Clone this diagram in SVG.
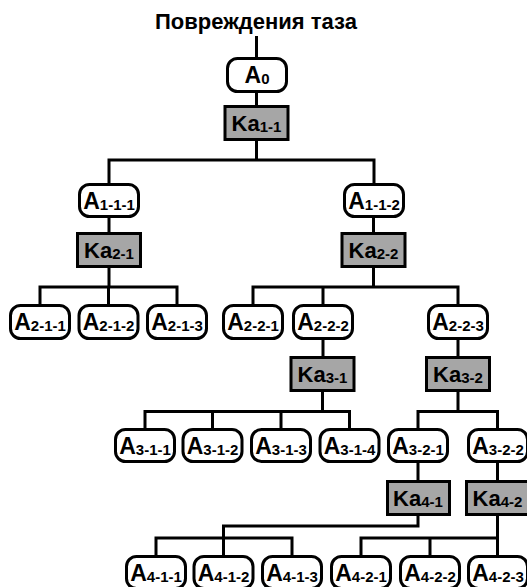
<svg xmlns="http://www.w3.org/2000/svg" width="527" height="587" viewBox="0 0 527 587">
<style>
.a{fill:#fff;stroke:#000;stroke-width:3}
.k{fill:#a6a6a6;stroke:#000;stroke-width:3}
.c{fill:none;stroke:#000;stroke-width:3;stroke-linejoin:miter}
text{font-family:"Liberation Sans",Arial,sans-serif;font-weight:bold;fill:#000;text-anchor:middle;font-size:23px}
.kt{font-size:22px}
.s{font-size:15px}
.t{font-size:22px}
</style>
<rect width="527" height="587" fill="#fff"/>
<text class="t" x="256" y="29">Повреждения таза</text>
<g id="connectors">
<path class="c" d="M256.5 36V57M256.5 93V105M256.5 141V160M109 183V160H374V183"/>
<path class="c" d="M109 218V232M373.5 218V232"/>
<path class="c" d="M109 268V287M40 304V287H177V304M108.5 287V304"/>
<path class="c" d="M373.5 268V287M253 304V287H458V304M323 287V304"/>
<path class="c" d="M323 340V356M458 340V356"/>
<path class="c" d="M322.5 392V411.5M145 428V411.5H349.5V428M212.5 411.5V428M281 411.5V428"/>
<path class="c" d="M458 392V411.5M418 428V411.5H497.5V428"/>
<path class="c" d="M418 462V480M497.5 462V480"/>
<path class="c" d="M418 516V526H223.5V555M156 555V538H292V555"/>
<path class="c" d="M497.5 516V555M361 555V538H497.5M430 538V555"/>
</g>
<g id="A0"><rect class="a" x="227.5" y="58.5" width="59" height="33" rx="10"/><text x="257" y="83">A<tspan class="s" dy="1">0</tspan></text></g>
<g id="Ka1-1"><rect class="k" x="225" y="106.5" width="63" height="33"/><text class="kt" x="256.5" y="131">Ka<tspan class="s" dy="1">1-1</tspan></text></g>
<g id="A1-1-1"><rect class="a" x="79.5" y="184.5" width="59" height="32" rx="10"/><text x="109" y="208.5">A<tspan class="s" dy="1">1-1-1</tspan></text></g>
<g id="A1-1-2"><rect class="a" x="344.5" y="184.5" width="59" height="32" rx="10"/><text x="374" y="208.5">A<tspan class="s" dy="1">1-1-2</tspan></text></g>
<g id="Ka2-1"><rect class="k" x="77.5" y="233.5" width="63" height="33"/><text class="kt" x="109" y="258">Ka<tspan class="s" dy="1">2-1</tspan></text></g>
<g id="Ka2-2"><rect class="k" x="342" y="233.5" width="63" height="33"/><text class="kt" x="373.5" y="258">Ka<tspan class="s" dy="1">2-2</tspan></text></g>
<g id="A2-1-1"><rect class="a" x="10.5" y="305.5" width="59" height="33" rx="10"/><text x="40" y="330">A<tspan class="s" dy="1">2-1-1</tspan></text></g>
<g id="A2-1-2"><rect class="a" x="79" y="305.5" width="59" height="33" rx="10"/><text x="108.5" y="330">A<tspan class="s" dy="1">2-1-2</tspan></text></g>
<g id="A2-1-3"><rect class="a" x="147.5" y="305.5" width="59" height="33" rx="10"/><text x="177" y="330">A<tspan class="s" dy="1">2-1-3</tspan></text></g>
<g id="A2-2-1"><rect class="a" x="223.5" y="305.5" width="59" height="33" rx="10"/><text x="253" y="330">A<tspan class="s" dy="1">2-2-1</tspan></text></g>
<g id="A2-2-2"><rect class="a" x="293.5" y="305.5" width="59" height="33" rx="10"/><text x="323" y="330">A<tspan class="s" dy="1">2-2-2</tspan></text></g>
<g id="A2-2-3"><rect class="a" x="428.5" y="305.5" width="59" height="33" rx="10"/><text x="458" y="330">A<tspan class="s" dy="1">2-2-3</tspan></text></g>
<g id="Ka3-1"><rect class="k" x="291" y="357.5" width="63" height="33"/><text class="kt" x="322.5" y="382">Ka<tspan class="s" dy="1">3-1</tspan></text></g>
<g id="Ka3-2"><rect class="k" x="426.5" y="357.5" width="63" height="33"/><text class="kt" x="458" y="382">Ka<tspan class="s" dy="1">3-2</tspan></text></g>
<g id="A3-1-1"><rect class="a" x="115.5" y="429.5" width="59" height="32" rx="10"/><text x="145" y="453.5">A<tspan class="s" dy="1">3-1-1</tspan></text></g>
<g id="A3-1-2"><rect class="a" x="183" y="429.5" width="59" height="32" rx="10"/><text x="212.5" y="453.5">A<tspan class="s" dy="1">3-1-2</tspan></text></g>
<g id="A3-1-3"><rect class="a" x="251.5" y="429.5" width="59" height="32" rx="10"/><text x="281" y="453.5">A<tspan class="s" dy="1">3-1-3</tspan></text></g>
<g id="A3-1-4"><rect class="a" x="320" y="429.5" width="59" height="32" rx="10"/><text x="349.5" y="453.5">A<tspan class="s" dy="1">3-1-4</tspan></text></g>
<g id="A3-2-1"><rect class="a" x="388.5" y="429.5" width="59" height="32" rx="10"/><text x="418" y="453.5">A<tspan class="s" dy="1">3-2-1</tspan></text></g>
<g id="A3-2-2"><rect class="a" x="468.5" y="429.5" width="59" height="32" rx="10"/><text x="498" y="453.5">A<tspan class="s" dy="1">3-2-2</tspan></text></g>
<g id="Ka4-1"><rect class="k" x="387.5" y="481.5" width="62" height="33"/><text class="kt" x="418" y="506">Ka<tspan class="s" dy="1">4-1</tspan></text></g>
<g id="Ka4-2"><rect class="k" x="466.5" y="481.5" width="62" height="33"/><text class="kt" x="497.5" y="506">Ka<tspan class="s" dy="1">4-2</tspan></text></g>
<g id="A4-1-1"><rect class="a" x="126.5" y="556.5" width="59" height="32" rx="10"/><text x="156" y="580.5">A<tspan class="s" dy="1">4-1-1</tspan></text></g>
<g id="A4-1-2"><rect class="a" x="194" y="556.5" width="59" height="32" rx="10"/><text x="223.5" y="580.5">A<tspan class="s" dy="1">4-1-2</tspan></text></g>
<g id="A4-1-3"><rect class="a" x="262.5" y="556.5" width="59" height="32" rx="10"/><text x="292" y="580.5">A<tspan class="s" dy="1">4-1-3</tspan></text></g>
<g id="A4-2-1"><rect class="a" x="331.5" y="556.5" width="59" height="32" rx="10"/><text x="361" y="580.5">A<tspan class="s" dy="1">4-2-1</tspan></text></g>
<g id="A4-2-2"><rect class="a" x="400.5" y="556.5" width="59" height="32" rx="10"/><text x="430" y="580.5">A<tspan class="s" dy="1">4-2-2</tspan></text></g>
<g id="A4-2-3"><rect class="a" x="468.5" y="556.5" width="59" height="32" rx="10"/><text x="498" y="580.5">A<tspan class="s" dy="1">4-2-3</tspan></text></g>
</svg>
